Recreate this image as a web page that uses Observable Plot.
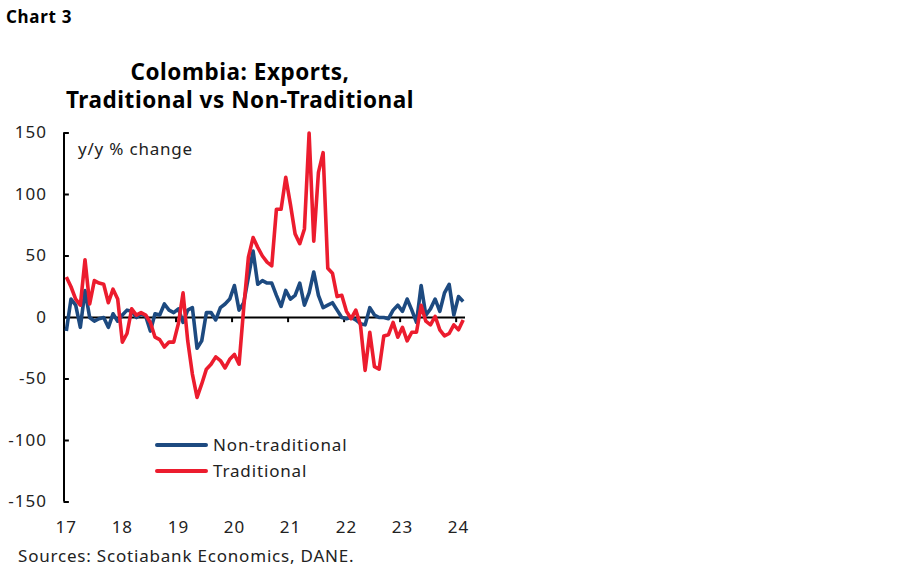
<!DOCTYPE html>
<html>
<head>
<meta charset="utf-8">
<script src="https://cdn.jsdelivr.net/npm/d3@7"></script>
<script src="https://cdn.jsdelivr.net/npm/@observablehq/plot@0.6"></script>
<style>
  body { margin: 0; background: #fff; font-family: "Noto Sans", Lato, sans-serif; }
  #wrap { position: relative; width: 899px; height: 579px; overflow: hidden; }
  #wrap svg { position: absolute; left: 0; top: 0; }
  .abs { position: absolute; white-space: nowrap; }
  #chartno { left: 6px; top: 5px; font-size: 17px; font-weight: 700; color: #000; letter-spacing: 0.7px; }
  #title { left: 0; top: 58px; width: 480px; text-align: center; font-size: 22.5px; font-weight: 700; line-height: 28px; color: #000; letter-spacing: 0.55px; }
  #unit { left: 78px; top: 137px; font-size: 17px; color: #222; letter-spacing: 0.8px; }
  #source { left: 18px; top: 544px; font-size: 17px; color: #222; letter-spacing: 0.8px; }
  .leg { position: absolute; font-size: 17px; color: #222; line-height: 22px; letter-spacing: 0.85px; }
  .leg span.sw { position: absolute; left: -58px; top: 9px; width: 53px; height: 4px; border-radius: 2px; }
</style>
</head>
<body>
<div id="wrap">
  <div id="chartno" class="abs">Chart 3</div>
  <div id="title" class="abs">Colombia: Exports,<br>Traditional vs Non-Traditional</div>
  <div id="unit" class="abs">y/y % change</div>
  <div class="leg" style="left:213px; top:434px;"><span class="sw" style="background:#1d4a80"></span>Non-traditional</div>
  <div class="leg" style="left:213px; top:460px;"><span class="sw" style="background:#ec1c2e"></span>Traditional</div>
  <div id="source" class="abs">Sources: Scotiabank Economics, DANE.</div>
</div>
<script>
// Monthly y/y % change, Jan 2017 .. Feb 2024
const startYear = 2017;
const nonTraditional = [
  -11, 15, 10, -8, 22, 0, -3, -1, 0, -8, 3, -3,
  2, 6, 5, 0, 3, 1, -11, 3, 2, 11, 6, 4,
  7, -4, 6, 8, -25, -19, 4, 4, -2, 8, 11, 15,
  26, 6, 12, 33, 54, 27, 30, 28, 28, 18, 9, 22,
  15, 18, 28, 10, 20, 37, 18, 8, 10, 12, 6, 0,
  -1, 0, -2, -5, -6, 8, 2, 0, 0, -1, 6, 10,
  5, 15, 6, -4, 26, 2, 7, 15, 5, 20, 27, 2,
  17, 13
];
const traditional = [
  33, 25, 15, 10, 47, 11, 30, 28, 27, 12, 23, 15,
  -20, -13, 7, 2, 4, 2, -4, -16, -18, -24, -20, -20,
  -5, 20, -19, -46, -65, -54, -42, -38, -32, -35, -41, -34,
  -30, -38, 8, 49, 65, 57, 50, 45, 42, 88, 88, 114,
  92, 68, 60, 72, 150, 62, 118, 134, 40, 36, 17, 18,
  5, -1, 6, -6, -43, -12, -40, -42, -15, -14, -4, -16,
  -8, -19, -12, -12, 10, -3, -6, 1, -10, -15, -13, -6,
  -10, -2
];
const yearLabels = ["17", "18", "19", "20", "21", "22", "23", "24"];
const yTicks = [150, 100, 50, 0, -50, -100, -150];

const seriesNames = ["Non-traditional", "Traditional"];
const colors = ["#1d4a80", "#ec1c2e"];

const rows = [];
nonTraditional.forEach((v, i) => rows.push({ i, v, s: seriesNames[0] }));
traditional.forEach((v, i) => rows.push({ i, v, s: seriesNames[1] }));

const years = yearLabels.map((t, k) => ({ t, mid: 12 * k, edge: 12 * k - 0.5 }));
const nMonths = nonTraditional.length;

const plot = Plot.plot({
  width: 899,
  height: 579,
  marginLeft: 63.5,
  marginRight: 434,
  marginTop: 132.5,
  marginBottom: 77.5,
  x: { type: "linear", domain: [-0.5, nMonths - 0.5], axis: null },
  y: { domain: [-150, 150], axis: null },
  color: { domain: seriesNames, range: colors },
  style: { fontFamily: "'Noto Sans', Lato, sans-serif", overflow: "visible", letterSpacing: "1px" },
  marks: [
    // y-axis line
    Plot.ruleX([-0.5], { y1: -150, y2: 150, stroke: "#000", strokeWidth: 2 }),
    // inward y ticks
    Plot.ruleY(yTicks, { x1: -0.5, x2: 0.65, stroke: "#000", strokeWidth: 2 }),
    Plot.text(yTicks, { x: -0.5, y: d => d, text: d => String(d), textAnchor: "end", dx: -17, fontSize: 17, fill: "#222" }),
    // zero line with downward year ticks
    Plot.ruleY([0], { x1: -0.5, x2: nMonths - 0.5, stroke: "#000", strokeWidth: 2 }),
    Plot.ruleX(years.slice(1), { x: "edge", y1: 0, y2: -4.2, stroke: "#000", strokeWidth: 2 }),
    Plot.text(years, { x: "mid", y: -150, text: "t", dy: 26, fontSize: 17, fill: "#222" }),
    // series
    Plot.line(rows, { x: "i", y: "v", z: "s", stroke: "s", strokeWidth: 3.6, strokeLinejoin: "round", strokeLinecap: "butt" })
  ]
});
document.getElementById("wrap").prepend(plot);
</script>
</body>
</html>
